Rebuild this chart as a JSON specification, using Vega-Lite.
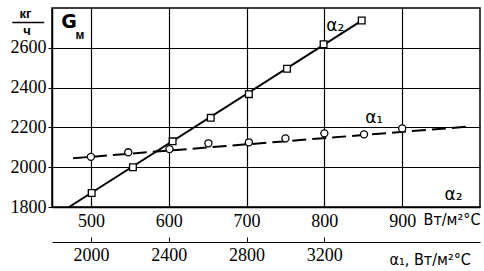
{
  "$schema": "https://vega.github.io/schema/vega-lite/v6.json",
  "width": 428,
  "height": 199,
  "autosize": {"type": "none"},
  "padding": {"left": 52, "top": 8, "right": 4, "bottom": 64},
  "background": "white",
  "config": {
    "view": {"stroke": "black", "strokeWidth": 1.5},
    "font": "Liberation Sans Narrow",
    "text": {"font": "Liberation Sans Narrow", "color": "black"},
    "axis": {
      "labelFont": "Liberation Sans Narrow",
      "labelFontSize": 18,
      "labelColor": "black",
      "domainColor": "black",
      "domainWidth": 1.5,
      "tickColor": "black",
      "gridColor": "black",
      "gridOpacity": 1,
      "gridWidth": 1.2,
      "title": null
    }
  },
  "datasets": {
    "squares": [
      {"a2": 501, "G": 1870}, {"a2": 554, "G": 2000}, {"a2": 605, "G": 2130},
      {"a2": 654, "G": 2248}, {"a2": 703, "G": 2367}, {"a2": 752, "G": 2495},
      {"a2": 799, "G": 2618}, {"a2": 848, "G": 2737}
    ],
    "fitA2": [{"a2": 472, "G": 1800}, {"a2": 848, "G": 2737}],
    "circles": [
      {"a1": 2000, "G": 2052}, {"a1": 2192, "G": 2075}, {"a1": 2404, "G": 2091},
      {"a1": 2604, "G": 2120}, {"a1": 2812, "G": 2125}, {"a1": 3000, "G": 2145},
      {"a1": 3200, "G": 2170}, {"a1": 3404, "G": 2165}, {"a1": 3600, "G": 2195}
    ],
    "fitA1": [{"a1": 1908, "G": 2045}, {"a1": 3952, "G": 2205}]
  },
  "layer": [
    {
      "layer": [
        {
          "data": {"name": "fitA2"},
          "mark": {"type": "line", "color": "black", "strokeWidth": 2},
          "encoding": {
            "x": {"field": "a2", "type": "quantitative",
                  "scale": {"domain": [451, 998]},
                  "axis": {"values": [500, 600, 700, 800, 900], "grid": true, "ticks": false, "labelPadding": 5, "format": "d"}},
            "y": {"field": "G", "type": "quantitative",
                  "scale": {"domain": [1800, 2800]},
                  "axis": {"values": [1800, 2000, 2200, 2400, 2600], "grid": true, "tickSize": 4, "labelPadding": 2, "format": "d"}}
          }
        },
        {
          "data": {"name": "squares"},
          "mark": {"type": "point", "shape": "square", "filled": true, "fill": "white", "stroke": "black", "strokeWidth": 1.3, "size": 45, "opacity": 1},
          "encoding": {
            "x": {"field": "a2", "type": "quantitative"},
            "y": {"field": "G", "type": "quantitative"}
          }
        },
        {
          "data": {"values": [{"a2": 416, "G": 2772, "t": "кг"}, {"a2": 418, "G": 2684, "t": "ч"}]},
          "mark": {"type": "text", "fontSize": 13, "fontWeight": "bold", "align": "center", "baseline": "middle", "font": "Liberation Sans"},
          "encoding": {
            "x": {"field": "a2", "type": "quantitative"},
            "y": {"field": "G", "type": "quantitative"},
            "text": {"field": "t"}
          }
        },
        {
          "data": {"values": [{"a2": 399, "a2e": 440, "G": 2727}]},
          "mark": {"type": "rule", "color": "black", "strokeWidth": 1.5},
          "encoding": {
            "x": {"field": "a2", "type": "quantitative"},
            "x2": {"field": "a2e"},
            "y": {"field": "G", "type": "quantitative"}
          }
        },
        {
          "data": {"values": [{"a2": 472, "G": 2728, "t": "G"}]},
          "mark": {"type": "text", "fontSize": 19, "fontWeight": "bold", "align": "center", "baseline": "middle", "font": "DejaVu Sans"},
          "encoding": {
            "x": {"field": "a2", "type": "quantitative"},
            "y": {"field": "G", "type": "quantitative"},
            "text": {"field": "t"}
          }
        },
        {
          "data": {"values": [{"a2": 486, "G": 2664, "t": "м"}]},
          "mark": {"type": "text", "fontSize": 12, "fontWeight": "bold", "align": "center", "baseline": "middle", "font": "Liberation Sans"},
          "encoding": {
            "x": {"field": "a2", "type": "quantitative"},
            "y": {"field": "G", "type": "quantitative"},
            "text": {"field": "t"}
          }
        },
        {
          "data": {"values": [
            {"a2": 814, "G": 2709, "t": "α₂"},
            {"a2": 864, "G": 2247, "t": "α₁"},
            {"a2": 966, "G": 1862, "t": "α₂"}
          ]},
          "mark": {"type": "text", "fontSize": 17, "align": "center", "baseline": "middle", "font": "DejaVu Sans"},
          "encoding": {
            "x": {"field": "a2", "type": "quantitative"},
            "y": {"field": "G", "type": "quantitative"},
            "text": {"field": "t"}
          }
        },
        {
          "data": {"values": [
            {"a2": 964, "G": 1735, "t": "Вт/м²°С"},
            {"a2": 936, "G": 1535, "t": "α₁, Вт/м²°С"}
          ]},
          "mark": {"type": "text", "fontSize": 16, "align": "center", "baseline": "middle", "font": "DejaVu Sans Condensed"},
          "encoding": {
            "x": {"field": "a2", "type": "quantitative"},
            "y": {"field": "G", "type": "quantitative"},
            "text": {"field": "t"}
          }
        }
      ]
    },
    {
      "layer": [
        {
          "data": {"name": "fitA1"},
          "mark": {"type": "line", "color": "black", "strokeWidth": 2, "strokeDash": [14, 6]},
          "encoding": {
            "x": {"field": "a1", "type": "quantitative",
                  "scale": {"domain": [1804, 3992]},
                  "axis": {"orient": "bottom", "offset": 35, "values": [2000, 2400, 2800, 3200], "grid": false, "tickSize": -5, "labelPadding": 9, "format": "d", "domainWidth": 1.2}},
            "y": {"field": "G", "type": "quantitative"}
          }
        },
        {
          "data": {"name": "circles"},
          "mark": {"type": "point", "shape": "circle", "filled": true, "fill": "white", "stroke": "black", "strokeWidth": 1.3, "size": 50, "opacity": 1},
          "encoding": {
            "x": {"field": "a1", "type": "quantitative"},
            "y": {"field": "G", "type": "quantitative"}
          }
        }
      ]
    }
  ],
  "resolve": {"scale": {"x": "independent"}}
}
